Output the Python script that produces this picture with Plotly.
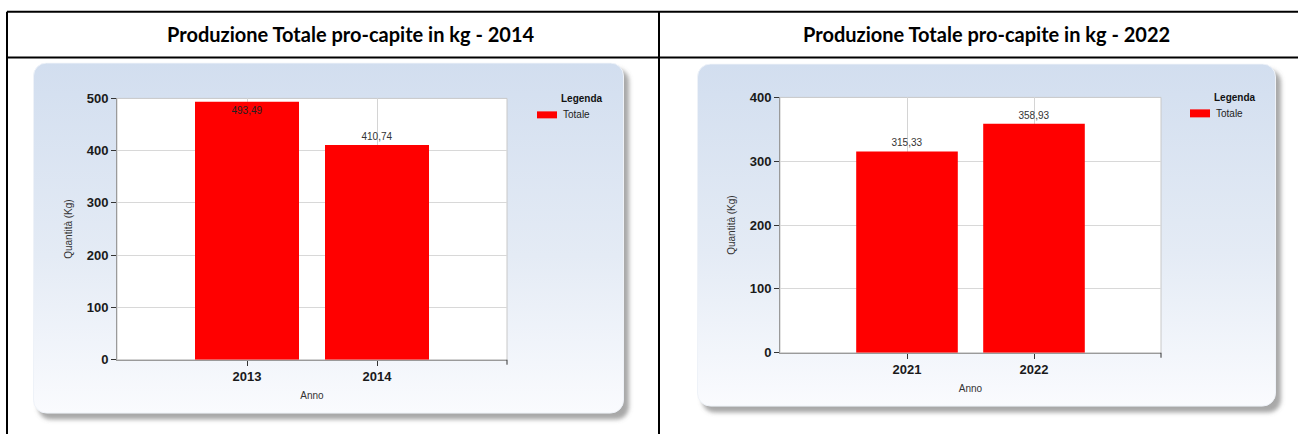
import base64
import plotly.graph_objects as go

W, H = 1298, 434

# ---------------- data ----------------
titles = ["Produzione Totale pro-capite in kg - 2014",
          "Produzione Totale pro-capite in kg - 2022"]
years_a = ["2013", "2014"]
values_a = [493.49, 410.74]
years_b = ["2021", "2022"]
values_b = [315.33, 358.93]
yticks_a = [0, 100, 200, 300, 400, 500]
yticks_b = [0, 100, 200, 300, 400]
series_name = "Totale"
legend_title = "Legenda"
y_title = "Quantità (Kg)"
x_title = "Anno"
bar_color = "#ff0000"

# vertical calibration of the photographed page
Y_OFF, Y_SC = 6.35, 0.968


def fx(x):
    return x / W


def fy(y):
    return 1 - ((y - Y_OFF) / Y_SC) / H


def panel_svg(w, h):
    pad = 14
    svg = f"""<svg xmlns='http://www.w3.org/2000/svg' width='{w+pad}' height='{h+pad}' viewBox='0 0 {w+pad} {h+pad}' preserveAspectRatio='none'>
<defs>
<linearGradient id='g' x1='0' y1='0' x2='0' y2='1'>
<stop offset='0' stop-color='#d2deef'/>
<stop offset='0.55' stop-color='#e4ebf5'/>
<stop offset='1' stop-color='#fafbfe'/>
</linearGradient>
<filter id='b' x='-10%' y='-10%' width='120%' height='120%'><feGaussianBlur stdDeviation='2.2'/></filter>
</defs>
<rect x='5' y='6' width='{w}' height='{h}' rx='13' fill='#6e6e6e' fill-opacity='0.6' filter='url(#b)'/>
<rect x='0.5' y='0.5' width='{w-1}' height='{h-1}' rx='13' fill='url(#g)' stroke='#eef2f8' stroke-width='1'/>
</svg>"""
    return "data:image/svg+xml;base64," + base64.b64encode(svg.encode()).decode()


panels = [
    dict(cats=years_a, vals=values_a, ticks=yticks_a, ymax=500,
         panel=(33, 62, 591, 352), plot=(117, 98, 507, 360),
         textpos=["inside", "outside"],
         leg=(537, 111, 557, 118, 582, 98), title_x=351),
    dict(cats=years_b, vals=values_b, ticks=yticks_b, ymax=400,
         panel=(697, 63, 579, 344), plot=(780, 97, 1161, 353),
         textpos=["outside", "outside"],
         leg=(1190, 109, 1210, 117, 1235, 97), title_x=986),
]

fig = go.Figure()
shapes = []
annotations = []
images = []

for i, p in enumerate(panels):
    ax = "" if i == 0 else str(i + 1)
    x0, y0, x1, y1 = p["plot"]
    fig.add_trace(go.Bar(
        x=p["cats"], y=p["vals"], name=series_name,
        marker=dict(color=bar_color, line=dict(width=0)),
        texttemplate="%{y:.2f}", textposition=p["textpos"],
        insidetextanchor="end",
        textfont=dict(family="Liberation Sans", size=10, color="#333333"),
        insidetextfont=dict(family="Liberation Sans", size=10, color="#222222"),
        outsidetextfont=dict(family="Liberation Sans", size=10, color="#333333"),
        cliponaxis=False, showlegend=False,
        xaxis="x" + ax, yaxis="y" + ax,
    ))
    common_tick = dict(family="Liberation Sans", size=13, color="#1a1a1a", weight="bold")
    fig.update_layout(**{
        "xaxis" + ax: dict(
            domain=[fx(x0), fx(x1)], anchor="y" + ax, type="category",
            range=[-1, 2], showgrid=True, gridcolor="#d4d4d4", gridwidth=1,
            showline=True, linecolor="#9a9a9a", linewidth=1,
            ticks="outside", ticklen=5, tickcolor="#333333",
            tickfont=common_tick, fixedrange=True,
            title=dict(text=x_title, standoff=8,
                       font=dict(family="Liberation Sans", size=10, color="#333333")),
        ),
        "yaxis" + ax: dict(
            domain=[fy(y1), fy(y0)], anchor="x" + ax,
            range=[0, p["ymax"]], tickvals=p["ticks"],
            showgrid=True, gridcolor="#d8d8d8", gridwidth=1, zeroline=False,
            showline=True, linecolor="#9a9a9a", linewidth=1,
            ticks="outside", ticklen=5, tickcolor="#333333",
            tickfont=common_tick, fixedrange=True,
            title=dict(text=y_title, standoff=12,
                       font=dict(family="Liberation Sans", size=10, color="#333333")),
        ),
    })
    # panel background
    px0, py0, pw, ph = p["panel"]
    images.append(dict(
        source=panel_svg(pw, ph), xref="paper", yref="paper",
        x=fx(px0), y=fy(py0), sizex=(pw + 14) / W, sizey=fy(py0) - fy(py0 + ph + 14),
        xanchor="left", yanchor="top", sizing="stretch", layer="below",
    ))
    # white plot area
    shapes.append(dict(type="rect", xref=f"x{ax} domain", yref=f"y{ax} domain",
                       x0=0, x1=1, y0=0, y1=1, fillcolor="white",
                       line=dict(color="#c8c8c8", width=1), layer="below"))
    # end tick on the category axis
    shapes.append(dict(type="line", xref=f"x{ax} domain", yref="paper",
                       x0=1, x1=1, y0=fy(y1), y1=fy(y1 + 5),
                       line=dict(color="#333333", width=1)))
    # legend
    lx0, ly0, lx1, ly1, ltx, lty = p["leg"]
    shapes.append(dict(type="rect", xref="paper", yref="paper",
                       x0=fx(lx0), x1=fx(lx1), y0=fy(ly1), y1=fy(ly0),
                       fillcolor=bar_color, line=dict(width=0)))
    annotations.append(dict(text=series_name, xref="paper", yref="paper",
                            x=fx(lx1 + 4), y=fy((ly0 + ly1) / 2), xanchor="left",
                            yanchor="middle", showarrow=False,
                            font=dict(family="Liberation Sans", size=10, color="#222222")))
    annotations.append(dict(text="<b>" + legend_title + "</b>", xref="paper", yref="paper",
                            x=fx(ltx), y=fy(lty), xanchor="center", yanchor="middle",
                            showarrow=False,
                            font=dict(family="Liberation Sans", size=10, color="#111111")))
    # header title
    annotations.append(dict(text="<b>" + titles[i] + "</b>", xref="paper", yref="paper",
                            x=fx(p["title_x"]), y=fy(33), xanchor="center",
                            yanchor="middle", showarrow=False,
                            font=dict(family="Lato", size=20, color="#000000")))

# table lines
for (a, b, c, d) in [(7, 11, W, 11), (7, 57, W, 57), (7, 11, 7, H + 20), (659, 11, 659, H + 20)]:
    shapes.append(dict(type="line", xref="paper", yref="paper",
                       x0=fx(a), y0=fy(b), x1=fx(c), y1=fy(d),
                       line=dict(color="black", width=2)))

fig.update_layout(
    width=W, height=H, margin=dict(l=0, r=0, t=0, b=0),
    paper_bgcolor="white", plot_bgcolor="white",
    bargap=0.2, separators=",.", showlegend=False,
    shapes=shapes, annotations=annotations, images=images,
)

fig.write_html(
    "out.html",
    config={"displayModeBar": False},
    post_script="document.body.style.margin='0';document.body.style.padding='0';"
                "document.body.style.overflow='hidden';"
                "document.documentElement.style.overflow='hidden';",
)
